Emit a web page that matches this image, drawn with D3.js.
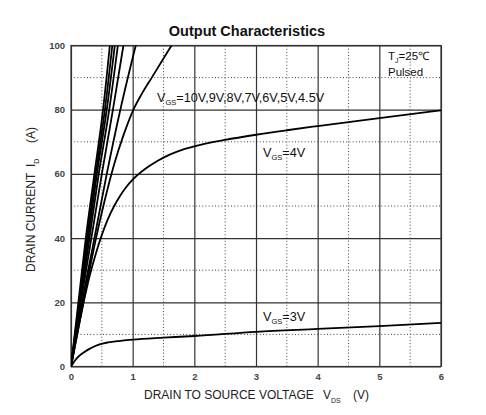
<!DOCTYPE html>
<html>
<head>
<meta charset="utf-8">
<script src="https://cdn.jsdelivr.net/npm/d3@7"></script>
<style>
  body { margin: 0; background: #fff; }
  text { font-family: "Liberation Sans", Arial, sans-serif; }
</style>
</head>
<body>
<div id="chart"></div>
<script>
// --- data: [V_DS, I_D] ---
const vgs10 = [[0,0],[0.12,20],[0.24,40],[0.38,60],[0.52,80],[0.63,100]];
const vgs9 = [[0,0],[0.13,20],[0.26,40],[0.40,60],[0.55,80],[0.67,100]];
const vgs8 = [[0,0],[0.14,20],[0.28,40],[0.42,60],[0.58,80],[0.71,100]];
const vgs7 = [[0,0],[0.15,20],[0.30,40],[0.45,60],[0.62,80],[0.76,100]];
const vgs6 = [[0,0],[0.16,20],[0.33,40],[0.50,60],[0.68,80],[0.85,100]];
const vgs5 = [[0,0],[0.18,20],[0.38,40],[0.58,60],[0.80,80],[1.05,100]];
const vgs45 = [[0,0],[0.2,20],[0.4,39.5],[0.55,52],[0.7,63],[0.85,72],[1.0,79.5],[1.15,85],[1.31,90],[1.47,95],[1.63,100]];
const vgs4 = [[0,0],[0.1,10],[0.2,19.5],[0.3,28],[0.4,35],[0.5,41],[0.6,46],[0.7,50],[0.8,53.3],[0.9,56],[1.0,58.2],[1.2,61.5],[1.4,64],[1.6,66],[1.8,67.5],[2.0,68.6],[2.5,70.6],[3.0,72.2],[3.5,73.6],[4.0,74.9],[5.0,77.4],[6.0,79.8]];
const vgs3 = [[0,0],[0.05,1.5],[0.1,2.7],[0.2,4.3],[0.3,5.5],[0.45,6.8],[0.6,7.5],[0.8,8.0],[1.0,8.4],[1.5,9.0],[2.0,9.5],[3.0,10.8],[4.0,11.7],[5.0,12.6],[6.0,13.6]];

const curves = [vgs10, vgs9, vgs8, vgs7, vgs6, vgs5, vgs45, vgs4, vgs3];

const xTicks = [0, 1, 2, 3, 4, 5, 6];
const yTicks = [0, 20, 40, 60, 80, 100];
const xMinor = [0.5, 1.5, 2.5, 3.5, 4.5, 5.5];
const yMinor = [10, 30, 50, 70, 90];

// --- layout ---
const width = 486, height = 415;
const margin = { top: 45.5, right: 45, bottom: 48.5, left: 71 };
const innerW = width - margin.left - margin.right;
const innerH = height - margin.top - margin.bottom;

const svg = d3.select("#chart").append("svg")
    .attr("width", width)
    .attr("height", height);

const x = d3.scaleLinear().domain([0, 6]).range([margin.left, margin.left + innerW]);
const y = d3.scaleLinear().domain([0, 100]).range([margin.top + innerH, margin.top]);

// dotted grid
const g = svg.append("g");
g.selectAll("line.vminor").data(xMinor).enter().append("line")
    .attr("x1", d => x(d)).attr("x2", d => x(d))
    .attr("y1", y(0)).attr("y2", y(100))
    .attr("stroke", "#444").attr("stroke-width", 1).attr("stroke-dasharray", "1,2.2");
g.selectAll("line.hminor").data(yMinor).enter().append("line")
    .attr("x1", x(0)).attr("x2", x(6))
    .attr("y1", d => y(d)).attr("y2", d => y(d))
    .attr("stroke", "#444").attr("stroke-width", 1).attr("stroke-dasharray", "1,2.2");

// solid grid via axes
const xAxis = d3.axisBottom(x).tickValues(xTicks).tickFormat(d3.format("d")).tickSize(-innerH).tickPadding(7);
const yAxis = d3.axisLeft(y).tickValues(yTicks).tickFormat(d3.format("d")).tickSize(-innerW).tickPadding(6);

svg.append("g").attr("transform", `translate(0,${y(0)})`).call(xAxis)
    .call(s => s.select(".domain").remove());
svg.append("g").attr("transform", `translate(${x(0)},0)`).call(yAxis)
    .call(s => s.select(".domain").remove());

svg.selectAll(".tick line").attr("stroke", "#333").attr("stroke-width", 1.2);
svg.selectAll(".tick text")
    .attr("font-family", "Liberation Sans, Arial, sans-serif")
    .attr("font-size", 9.5).attr("font-weight", "bold").attr("fill", "#444");

// frame
svg.append("rect")
    .attr("x", x(0)).attr("y", y(100))
    .attr("width", innerW).attr("height", innerH)
    .attr("fill", "none").attr("stroke", "#333").attr("stroke-width", 1.2);

// curves
svg.append("clipPath").attr("id", "plot")
    .append("rect").attr("x", x(0)).attr("y", y(100)).attr("width", innerW).attr("height", innerH);

const line = d3.line().x(d => x(d[0])).y(d => y(d[1])).curve(d3.curveMonotoneX);

svg.append("g").attr("clip-path", "url(#plot)")
    .selectAll("path").data(curves).enter().append("path")
    .attr("d", line)
    .attr("fill", "none").attr("stroke", "#000").attr("stroke-width", 1.8);

// annotations
function vgsLabel(px, py, rest) {
    const t = svg.append("text").attr("x", px).attr("y", py)
        .attr("font-size", 12.7).attr("fill", "#111");
    t.append("tspan").text("V");
    t.append("tspan").attr("font-size", 7.5).attr("dy", 3).text("GS");
    t.append("tspan").attr("dy", -3).text(rest);
}
vgsLabel(157, 102, "=10V,9V,8V,7V,6V,5V,4.5V");
vgsLabel(263, 157, "=4V");
vgsLabel(263, 321, "=3V");

const tj = svg.append("text").attr("x", 388).attr("y", 60).attr("font-size", 11.5).attr("fill", "#111");
tj.append("tspan").text("T");
tj.append("tspan").attr("font-size", 7).attr("dy", 3).text("J");
tj.append("tspan").attr("dy", -3).text("=25℃");
svg.append("text").attr("x", 388).attr("y", 76).attr("font-size", 11.5).attr("fill", "#111").text("Pulsed");

// title
svg.append("text").attr("x", 247).attr("y", 36).attr("text-anchor", "middle")
    .attr("font-size", 14.5).attr("font-weight", "bold").attr("fill", "#111")
    .text("Output Characteristics");

// x axis title
const xt = svg.append("text").attr("x", 144).attr("y", 399).attr("font-size", 12).attr("fill", "#222");
xt.append("tspan").text("DRAIN TO SOURCE VOLTAGE");
xt.append("tspan").attr("x", 323).text("V");
xt.append("tspan").attr("font-size", 7).attr("dy", 4).text("DS");
xt.append("tspan").attr("x", 353).attr("dy", -4).text("(V)");

// y axis title
const yt = svg.append("text")
    .attr("transform", "translate(35,272) rotate(-90)")
    .attr("font-size", 12).attr("fill", "#222");
yt.append("tspan").text("DRAIN CURRENT");
yt.append("tspan").attr("x", 105).text("I");
yt.append("tspan").attr("font-size", 7).attr("dy", 4).text("D");
yt.append("tspan").attr("x", 129).attr("dy", -4).text("(A)");
</script>
</body>
</html>
